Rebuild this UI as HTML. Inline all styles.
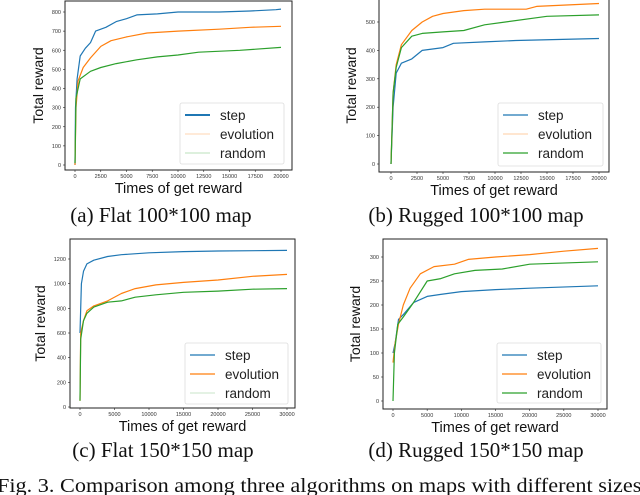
<!DOCTYPE html>
<html><head><meta charset="utf-8"><style>
html,body{margin:0;padding:0;background:#fff;width:640px;height:495px;overflow:hidden}
svg text{font-family:"Liberation Sans",sans-serif}
.cap{font-family:"Liberation Serif",serif}
</style></head><body>
<svg id="fig" width="640" height="495" viewBox="0 0 640 495" xmlns="http://www.w3.org/2000/svg"></svg>
<script>
// ---- data (x in thousands of "times of get reward") ----
const aStepX=[0,0.05,0.2,0.5,1,1.5,2,3,4,5,6,8,10,14,17,19.5,20];
const aStepY=[0,300,450,570,610,640,700,720,750,765,785,790,800,800,805,812,815];
const aEvoX=[0,0.1,0.3,0.8,1.5,2.5,3.5,5,7,10,14,17,20];
const aEvoY=[0,300,440,510,560,620,650,670,690,700,710,720,725];
const aRndX=[0,0.1,0.5,1.5,2.5,4,6,8,10,12,16,20];
const aRndY=[10,350,450,490,510,530,550,565,575,590,600,615];

const bStepX=[0,0.2,0.5,1,2,3,5,6,9,12,20];
const bStepY=[0,200,320,355,370,400,410,425,430,435,442];
const bEvoX=[0,0.2,0.5,1,2,3,4,5,7,9,13,14,20];
const bEvoY=[0,250,350,420,470,500,520,530,540,545,545,555,565];
const bRndX=[0,0.2,0.5,1,2,3,5,7,9,11,15,20];
const bRndY=[0,250,340,410,450,460,465,470,490,500,520,525];

const cStepX=[0,0.2,0.5,1,2,4,6,10,15,20,30];
const cStepY=[600,1000,1100,1160,1190,1220,1235,1250,1260,1265,1270];
const cEvoX=[0,0.1,0.5,1,2,4,6,8,11,15,20,25,30];
const cEvoY=[50,600,700,780,820,860,920,960,990,1010,1030,1060,1075];
const cRndX=[0,0.1,0.5,1,2,4,6,8,11,15,20,25,30];
const cRndY=[50,550,700,760,810,850,860,890,910,930,940,955,960];

const dStepX=[0,0.3,0.8,1.5,3,5,7,10,15,20,30];
const dStepY=[100,120,170,180,205,218,222,228,232,235,240];
const dEvoX=[0,0.3,0.8,1.5,2.5,4,6,9,11,15,20,25,30];
const dEvoY=[80,120,160,200,235,265,280,285,295,300,305,312,318];
const dRndX=[0,0.2,0.7,1.5,3,5,7,9,12,16,20,30];
const dRndY=[0,100,160,175,205,250,255,265,272,275,285,290];

const aXTicks=[0,2500,5000,7500,10000,12500,15000,17500,20000];
const aYTicks=[0,100,200,300,400,500,600,700,800];
const bXTicks=[0,2500,5000,7500,10000,12500,15000,17500,20000];
const bYTicks=[0,100,200,300,400,500];
const cXTicks=[0,5000,10000,15000,20000,25000,30000];
const cYTicks=[0,200,400,600,800,1000,1200];
const dXTicks=[0,5000,10000,15000,20000,25000,30000];
const dYTicks=[0,50,100,150,200,250,300];

const NS="http://www.w3.org/2000/svg";
const svg=document.getElementById('fig');
function mk(tag,attrs,parent){const e=document.createElementNS(NS,tag);for(const k in attrs)e.setAttribute(k,attrs[k]);(parent||svg).appendChild(e);return e;}

const C={step:'#1f77b4',evo:'#ff7f0e',rnd:'#2ca02c'};

function chart(o){
  const g=mk('g',{});
  
  
  const sx=v=>o.x0+(v-0)/(o.xmax)*(o.x1-o.x0);
  const sy=v=>o.y0-(v)/(o.ymax)*(o.y0-o.y1);
  const fr=mk('rect',{x:o.fl,y:o.ft,width:o.fr-o.fl,height:o.fb-o.ft,fill:'none',stroke:'#222','stroke-width':1},g);
  
  
  o.yt.forEach(v=>{
    mk('line',{x1:o.fl-2,x2:o.fl,y1:sy(v),y2:sy(v),stroke:'#222','stroke-width':0.6},g);
    const t=mk('text',{x:o.fl-4,y:sy(v)+2,'font-size':5.5,'text-anchor':'end',fill:'#333'},g);
    t.textContent=v;
    
    
  });
  o.xt.forEach(v=>{
    const x=sx(v/1000);
    mk('line',{x1:x,x2:x,y1:o.fb,y2:o.fb+2,stroke:'#222','stroke-width':0.6},g);
    const t=mk('text',{x:x,y:o.fb+8,'font-size':5.5,'text-anchor':'middle',fill:'#333'},g);
    t.textContent=v;
    
    
  });
  o.series.forEach(s=>{
    const pts=s.x.map((v,i)=>sx(v).toFixed(1)+','+sy(s.y[i]).toFixed(1)).join(' ');
    const p=mk('polyline',{points:pts,fill:'none',stroke:s.c,'stroke-width':1.2,'stroke-linejoin':'round'},g);
    
    
  });
  const yl=mk('text',{x:0,y:0,'font-size':14,'text-anchor':'middle',fill:'#111',transform:`translate(${o.ylx},${(o.ft+o.fb)/2}) rotate(-90)`},g);
  yl.textContent='Total reward';
  
  
  const xl=mk('text',{x:(o.fl+o.fr)/2,y:o.fb+23,'font-size':14.5,'text-anchor':'middle',fill:'#111'},g);
  xl.textContent='Times of get reward';
  
  
  const L=o.leg;
  const lg=mk('g',{},g);
  
  
  mk('rect',{x:L[0],y:L[1],width:L[2]-L[0],height:L[3]-L[1],fill:'#fff',stroke:'#ddd','stroke-width':0.8,rx:2},lg);
  o.series.forEach((s,i)=>{
    const yy=L[1]+12+i*19;
    mk('line',{x1:L[0]+5,x2:L[0]+30,y1:yy,y2:yy,stroke:s.c,'stroke-width':s.lw||1.2,opacity:s.lo||1},lg);
    const t=mk('text',{x:L[0]+40,y:yy+5,'font-size':13.5,fill:'#222'},lg);
    t.textContent=s.n;
    
    
  });
  const cp=mk('text',{x:o.capx,y:o.capy,'font-size':21,'text-anchor':'middle',fill:'#111',class:'cap'},g);
  cp.textContent=o.cap;
  
  
}

chart({name:'chart-flat-100',fl:65,fr:292,ft:1,fb:170,x0:75,x1:281,xmax:20,y0:165,y1:12,ymax:800,
  xt:aXTicks,yt:aYTicks,ylx:43,leg:[180,103,284,164],capx:161,capy:222,cap:'(a) Flat 100*100 map',
  series:[{n:'step',x:aStepX,y:aStepY,c:C.step,lw:2},{n:'evolution',x:aEvoX,y:aEvoY,c:C.evo,lo:0.25},{n:'random',x:aRndX,y:aRndY,c:C.rnd,lo:0.25}]});
chart({name:'chart-rugged-100',fl:379,fr:609,ft:-1,fb:172,x0:391,x1:599,xmax:20,y0:164,y1:22,ymax:500,
  xt:bXTicks,yt:bYTicks,ylx:356,leg:[498,103,603,166],capx:476,capy:222,cap:'(b) Rugged 100*100 map',
  series:[{n:'step',x:bStepX,y:bStepY,c:C.step},{n:'evolution',x:bEvoX,y:bEvoY,c:C.evo,lo:0.3},{n:'random',x:bRndX,y:bRndY,c:C.rnd}]});
chart({name:'chart-flat-150',fl:70,fr:295,ft:239,fb:408,x0:80,x1:287,xmax:30,y0:407,y1:259,ymax:1200,
  xt:cXTicks,yt:cYTicks,ylx:45,leg:[185,343,288,404],capx:163,capy:457,cap:'(c) Flat 150*150 map',
  series:[{n:'step',x:cStepX,y:cStepY,c:C.step},{n:'evolution',x:cEvoX,y:cEvoY,c:C.evo},{n:'random',x:cRndX,y:cRndY,c:C.rnd,lo:0.2}]});
chart({name:'chart-rugged-150',fl:383,fr:607,ft:239,fb:409,x0:393,x1:598,xmax:30,y0:401,y1:257,ymax:300,
  xt:dXTicks,yt:dYTicks,ylx:360,leg:[497,343,601,403],capx:476,capy:457,cap:'(d) Rugged 150*150 map',
  series:[{n:'step',x:dStepX,y:dStepY,c:C.step},{n:'evolution',x:dEvoX,y:dEvoY,c:C.evo},{n:'random',x:dRndX,y:dRndY,c:C.rnd}]});

const fc=mk('text',{x:-3,y:492,'font-size':20,fill:'#111',class:'cap',textLength:650,lengthAdjust:'spacingAndGlyphs'});
fc.textContent='Fig. 3.  Comparison among three algorithms on maps with different sizes.';


</script>
</body></html>
